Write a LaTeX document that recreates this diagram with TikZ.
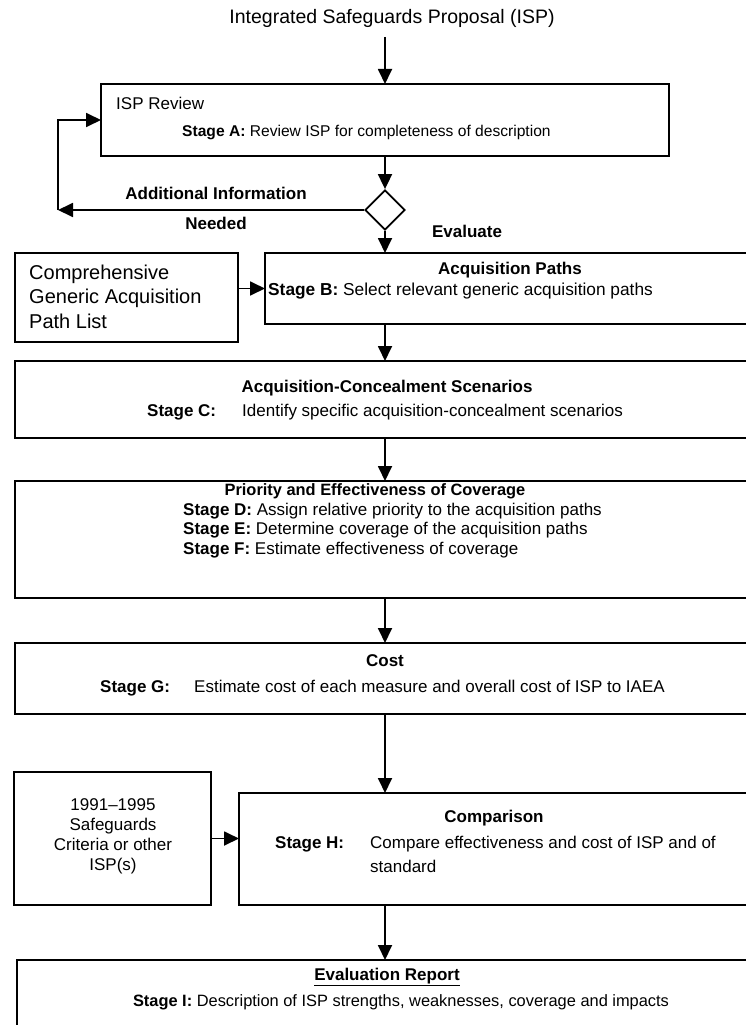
\documentclass[tikz,border=0pt]{standalone}
\usepackage{fontspec}
\setmainfont{Liberation Sans}
\usetikzlibrary{positioning, arrows.meta, shapes.geometric}

\begin{document}
\begin{tikzpicture}[x=1pt, y=-1pt,
    arrow/.style={-{Triangle[length=15pt, width=14pt]}, line width=1.8pt},
    box/.style={draw, line width=1.8pt, inner sep=0pt, outer sep=0pt, anchor=north west},
    txt/.style={inner sep=0pt, font=\fontsize{17}{20}\selectfont},
    head/.style={txt, font=\fontsize{17}{20}\selectfont\bfseries}
]
    \useasboundingbox (0,0) rectangle (746,1025);
    \clip (0,0) rectangle (746,1025);

    % Title
    \node[inner sep=0pt, font=\fontsize{19.5}{23}\selectfont] (isp) at (392,18) {Integrated Safeguards Proposal (ISP)};

    % Boxes
    \node[box, minimum width=568pt, minimum height=72pt] (A) at (101,84) {};
    \node[draw, diamond, line width=1.8pt, minimum width=40pt, minimum height=40pt, inner sep=0pt] (dia) at (385,210) {};
    \node[box, minimum width=223pt, minimum height=89pt] (list) at (15,253) {};
    \node[box, minimum width=505pt, minimum height=71pt] (B) at (265,253) {};
    \node[box, minimum width=755pt, minimum height=77pt] (C) at (15,361) {};
    \node[box, minimum width=755pt, minimum height=117pt] (D) at (15,481) {};
    \node[box, minimum width=755pt, minimum height=71pt] (G) at (15,643) {};
    \node[box, minimum width=197pt, minimum height=133pt] (crit) at (14,772) {};
    \node[box, minimum width=531pt, minimum height=112pt] (H) at (239,793) {};
    \node[box, minimum width=753pt, minimum height=90pt] (I) at (17,960) {};

    % Box texts
    \node[txt, anchor=west] at (116,103) {ISP Review};
    \node[txt, anchor=west, font=\fontsize{15.6}{19}\selectfont] at (182,132) {\textbf{Stage A:} Review ISP for completeness of description};

    \node[txt, anchor=west, align=left, font=\fontsize{20}{24.5}\selectfont] at (29,296.5) {Comprehensive\\Generic Acquisition\\Path List};

    \node[head] at (510,270) {Acquisition Paths};
    \node[txt, anchor=west, font=\fontsize{17.3}{20}\selectfont] at (268,291) {\textbf{Stage B:} Select relevant generic acquisition paths};

    \node[head] at (387,388) {Acquisition-Concealment Scenarios};
    \node[txt, anchor=base west] at (147,416) {\textbf{Stage C:}};
    \node[txt, anchor=base west] at (242,416) {Identify specific acquisition-concealment scenarios};

    \node[head, font=\fontsize{16.4}{20}\selectfont\bfseries] at (375,491) {Priority and Effectiveness of Coverage};
    \node[txt, anchor=west] at (183,511) {\textbf{Stage D:} Assign relative priority to the acquisition paths};
    \node[txt, anchor=west] at (183,530) {\textbf{Stage E:} Determine coverage of the acquisition paths};
    \node[txt, anchor=west] at (183,550) {\textbf{Stage F:} Estimate effectiveness of coverage};

    \node[head] at (385,661) {Cost};
    \node[txt, anchor=base west] at (100,692) {\textbf{Stage G:}};
    \node[txt, anchor=base west] at (194,692) {Estimate cost of each measure and overall cost of ISP to IAEA};

    \node[txt, align=center, font=\fontsize{17}{20}\selectfont] at (113,836) {1991--1995\\Safeguards\\Criteria or other\\ISP(s)};

    \node[head] at (494,818) {Comparison};
    \node[txt, anchor=base west] at (275,848) {\textbf{Stage H:}};
    \node[txt, anchor=base west] at (370,848) {Compare effectiveness and cost of ISP and of};
    \node[txt, anchor=base west] at (370,872) {standard};

    \node[head] at (387,977) {\underline{Evaluation Report}};
    \node[txt, font=\fontsize{16.4}{20}\selectfont] at (401,1002) {\textbf{Stage I:} Description of ISP strengths, weaknesses, coverage and impacts};

    % Decision labels
    \node[head] at (216,193) {Additional Information};
    \node[head] at (216,223) {Needed};
    \node[head] at (467,231) {Evaluate};

    % Arrows
    \coordinate (top) at (385,37);
    \coordinate (back) at (58,210);
    \draw[arrow] (top) -- (A.north -| top);
    \draw[arrow] (A.south -| dia) -- (dia.north);
    \draw[arrow] (dia.west) -- (back);
    \draw[arrow] (back) |- (A.west);
    \draw[arrow] (dia.south) -- (B.north -| dia);
    \draw[arrow] (list.east |- B.west) -- (B.west);
    \draw[arrow] (B.south -| dia) -- (C.north -| dia);
    \draw[arrow] (C.south -| dia) -- (D.north -| dia);
    \draw[arrow] (D.south -| dia) -- (G.north -| dia);
    \draw[arrow] (G.south -| dia) -- (H.north -| dia);
    \draw[arrow] (crit.east) -- (crit.east -| H.west);
    \draw[arrow] (H.south -| dia) -- (I.north -| dia);
\end{tikzpicture}
\end{document}
